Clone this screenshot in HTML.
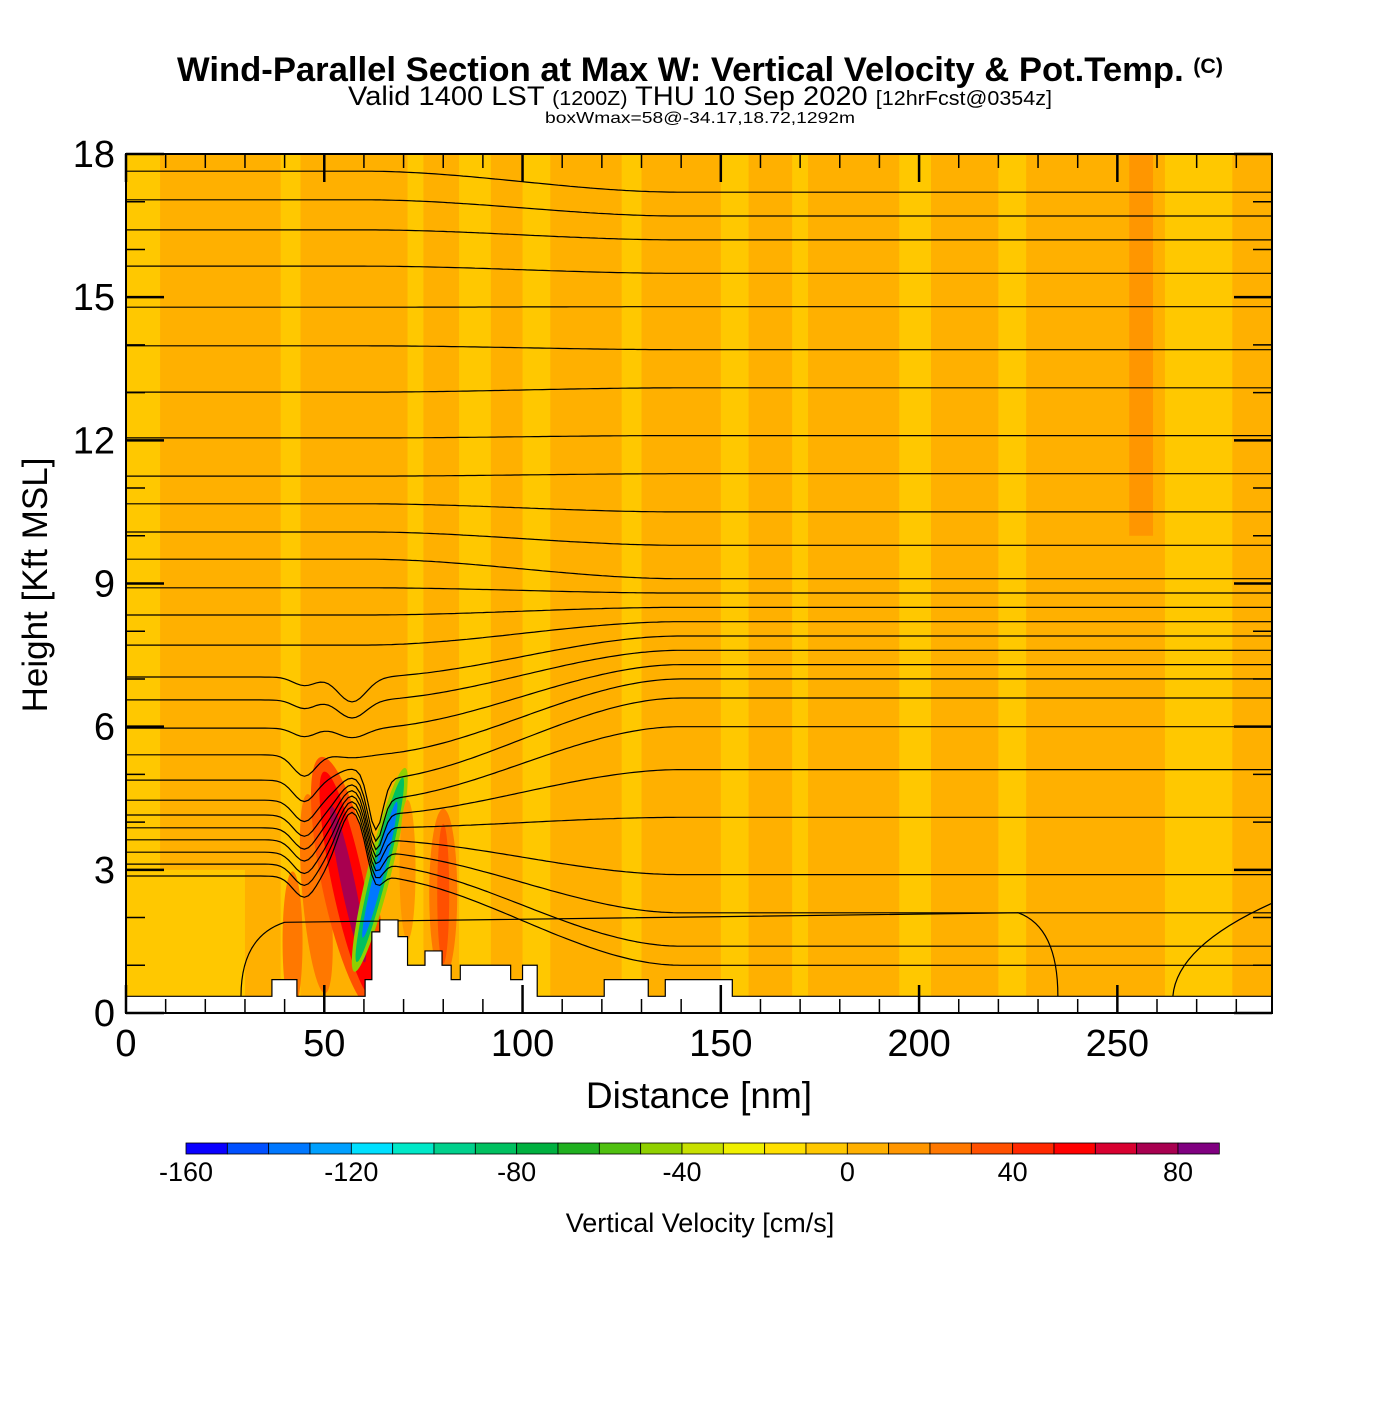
<!DOCTYPE html>
<html><head><meta charset="utf-8"><style>
body{margin:0;background:#fff;}
svg text{font-family:"Liberation Sans",sans-serif;}
</style></head><body>
<svg id="chart" width="1400" height="1400" viewBox="0 0 1400 1400" xmlns="http://www.w3.org/2000/svg">
<rect width="1400" height="1400" fill="#fff"/>
<text x="700" y="81" text-anchor="middle" font-size="34" font-weight="bold" textLength="1046" lengthAdjust="spacingAndGlyphs">Wind-Parallel Section at Max W: Vertical Velocity &amp; Pot.Temp. <tspan font-size="21" dy="-8">(C)</tspan></text>
<text x="700" y="105" text-anchor="middle" font-size="27" textLength="704" lengthAdjust="spacingAndGlyphs">Valid 1400 LST <tspan font-size="20">(1200Z)</tspan> THU 10 Sep 2020 <tspan font-size="20">[12hrFcst@0354z]</tspan></text>
<text x="700" y="123" text-anchor="middle" font-size="16" textLength="310" lengthAdjust="spacingAndGlyphs">boxWmax=58@-34.17,18.72,1292m</text>
<defs><clipPath id="clip"><rect x="126" y="154" width="1146" height="859"/></clipPath></defs>
<g id="plot" clip-path="url(#clip)"></g>
<g id="axes"></g>
<text x="699" y="1108" text-anchor="middle" font-size="37">Distance [nm]</text>
<text transform="translate(47,585) rotate(-90)" text-anchor="middle" font-size="35">Height [Kft MSL]</text>
<g id="cbar"></g>
<text x="700" y="1232" text-anchor="middle" font-size="27">Vertical Velocity [cm/s]</text>
</svg>
<script>
// ---- data ----
const yellowBands = [[0,8.6],[39,44],[71,75],[84,92],[100,107],[125,130],[150,157],[168,172],[195,203],[220,227],[262,279]];
const darkBands = [[253,259]];
const terrainX = [0,36.8,43.1,60.3,62,64,68.6,71,75.4,79.7,82,84.3,97,100,103.7,120.6,131.7,136,152.9,289];
const terrainH = [0.35,0.7,0.35,0.7,1.7,1.95,1.6,1.0,1.3,1.0,0.7,1.0,0.7,1.0,0.35,0.7,0.35,0.7,0.35];
const thetaLeft = [17.64,17.04,16.41,15.65,14.79,13.98,13.01,12.05,11.25,10.67,10.08,9.51,8.91,8.34,7.71,7.04,6.56,5.97,5.41,4.88,4.46,4.15,3.88,3.63,3.37,3.12,2.87];
const thetaRight = [17.2,16.7,16.2,15.5,14.8,13.9,13.1,12.1,11.3,10.5,9.8,9.1,8.8,8.5,8.2,7.9,7.6,7.3,7.0,6.6,6.0,5.1,4.1,2.9,2.1,1.4,1.0];
const cbarColors = ["#0a00ff","#0050ff","#0078ff","#00a0ff","#00e0ff","#00e8c8","#00d08c","#00c060","#00b040","#20b020","#50c010","#90d000","#c8e000","#f0f000","#ffe000","#ffc800","#ffb000","#ff9600","#ff7800","#ff5000","#ff2800","#ff0000","#d80030","#a80050","#800080"];
const cbarTicks = [-160,-120,-80,-40,0,40,80];
const xTicks = [0,50,100,150,200,250];
const yTicks = [0,3,6,9,12,15,18];

// ---- axes ----
const X0=126,X1=1272,Y0=1013,Y1=154,XMAX=289,YMAX=18;
const sx=v=>X0+v*(X1-X0)/XMAX, sy=v=>Y0-v*(Y0-Y1)/YMAX;
const NS="http://www.w3.org/2000/svg";
function mk(tag,attrs,parent){const e=document.createElementNS(NS,tag);for(const k in attrs)e.setAttribute(k,attrs[k]);parent.appendChild(e);return e;}
const plot=document.getElementById('plot'),axes=document.getElementById('axes'),cbar=document.getElementById('cbar');

let bg=mk('rect',{x:X0,y:Y1,width:X1-X0,height:Y0-Y1,fill:'#ffb000'},plot);


yellowBands.forEach(b=>{const r=mk('rect',{x:sx(b[0]),y:Y1,width:sx(b[1])-sx(b[0]),height:Y0-Y1,fill:'#ffc800'},plot);

});
darkBands.forEach(b=>{const r=mk('rect',{x:sx(b[0]),y:Y1,width:sx(b[1])-sx(b[0]),height:sy(10)-Y1,fill:'#ff9600'},plot);

});
let ly=mk('rect',{x:sx(0),y:sy(3),width:sx(30)-sx(0),height:sy(0)-sy(3),fill:'#ffc800'},plot);


function blob(cx,cy,rx,ry,rot,fill,name){const e=mk('ellipse',{cx:sx(cx),cy:sy(cy),rx:rx,ry:ry,transform:`rotate(${rot} ${sx(cx)} ${sy(cy)})`,fill:fill},plot);

}
blob(42,1.5,10,70,0,'#ff7800','updraft-1');
blob(48,2.5,14,100,-5,'#ff7800','updraft-2');
blob(56,2.7,26,130,-12,'#ff5000','updraft-core-outer');
blob(56,2.7,16,115,-12,'#ff0000','updraft-core');
blob(56,2.7,7,80,-12,'#a80050','updraft-core-max');
blob(64,3.0,12,105,14,'#90d000','downdraft-outer');
blob(64,3.0,8,95,14,'#00c060','downdraft-mid');
blob(64,3.0,5,70,14,'#0078ff','downdraft-core');
blob(80,2.5,14,85,0,'#ff7800','updraft-3');
blob(80,2.5,6,70,0,'#ff5000','updraft-3-core');
blob(71,3,8,70,0,'#ff9600','updraft-4');

// theta contours
function thetaH(i,x){const L=thetaLeft[i],R=thetaRight[i];
 let t=Math.min(1,Math.max(0,(x-60)/80));t=t*t*(3-2*t);
 let h=L+(R-L)*t;
 if(L<7.2){const w=Math.exp(-Math.pow((x-57)/5,2));h=h+(5.3-h)*w*(L<5.5?0.55:0.3);
  h-=0.45*Math.exp(-Math.pow((x-45)/4,2))*(L<5.5?1:0.4);
  if(L<5){const d=Math.exp(-Math.pow((x-63)/2.5,2));h-=(h-1.8)*d*0.35;}}
 return h;}
thetaLeft.forEach((L,i)=>{let d='';for(let x=0;x<=XMAX;x+=1){d+=(x?'L':'M')+sx(x).toFixed(1)+','+sy(thetaH(i,x)).toFixed(1);}
 const p=mk('path',{d:d,fill:'none',stroke:'#000','stroke-width':1.2},plot);
 
 });
const bc=mk('path',{d:`M${sx(29)},${sy(0.35)} Q${sx(29)},${sy(1.6)} ${sx(40)},${sy(1.9)} L${sx(225)},${sy(2.1)} Q${sx(235)},${sy(1.8)} ${sx(235)},${sy(0.35)} M${sx(264)},${sy(0.35)} Q${sx(265)},${sy(1.4)} ${sx(289)},${sy(2.3)}`,fill:'none',stroke:'#000','stroke-width':1.2},plot);



// terrain
let td=`M${sx(0)},${Y0}`;terrainH.forEach((h,i)=>{td+=`L${sx(terrainX[i])},${sy(h)}L${sx(terrainX[i+1])},${sy(h)}`;});td+=`L${sx(XMAX)},${Y0}Z`;
const ter=mk('path',{d:td,fill:'#fff',stroke:'#000','stroke-width':1.2},plot);



// frame & ticks
mk('rect',{x:X0,y:Y1,width:X1-X0,height:Y0-Y1,fill:'none',stroke:'#000','stroke-width':2},axes);
for(let v=0;v<=XMAX;v+=10){const maj=v%50===0,l=maj?28:14;
 mk('line',{x1:sx(v),x2:sx(v),y1:Y0,y2:Y0-l,stroke:'#000','stroke-width':maj?2.5:1.5},axes);
 mk('line',{x1:sx(v),x2:sx(v),y1:Y1,y2:Y1+l,stroke:'#000','stroke-width':maj?2.5:1.5},axes);}
for(let v=0;v<=YMAX;v+=1){const maj=v%3===0,l=maj?38:19;
 mk('line',{x1:X0,x2:X0+l,y1:sy(v),y2:sy(v),stroke:'#000','stroke-width':maj?2.5:1.5},axes);
 mk('line',{x1:X1,x2:X1-l,y1:sy(v),y2:sy(v),stroke:'#000','stroke-width':maj?2.5:1.5},axes);}
xTicks.forEach(v=>{const t=mk('text',{x:sx(v),y:1056,'text-anchor':'middle','font-size':38},axes);t.textContent=v;
 
 });
yTicks.forEach(v=>{const t=mk('text',{x:115,y:sy(v)+13,'text-anchor':'end','font-size':38},axes);t.textContent=v;
 
 });

// colorbar
const CB0=186,CBW=(1178-186)/24,CBY=1143;
cbarColors.forEach((c,i)=>{const r=mk('rect',{x:CB0+i*CBW,y:CBY,width:CBW,height:11,fill:c,stroke:'#000','stroke-width':0.8},cbar);
 
 });
cbarTicks.forEach(v=>{const t=mk('text',{x:CB0+(v+160)/10*CBW,y:1181,'text-anchor':'middle','font-size':27},cbar);t.textContent=v;
 
 });
</script>
</body></html>
